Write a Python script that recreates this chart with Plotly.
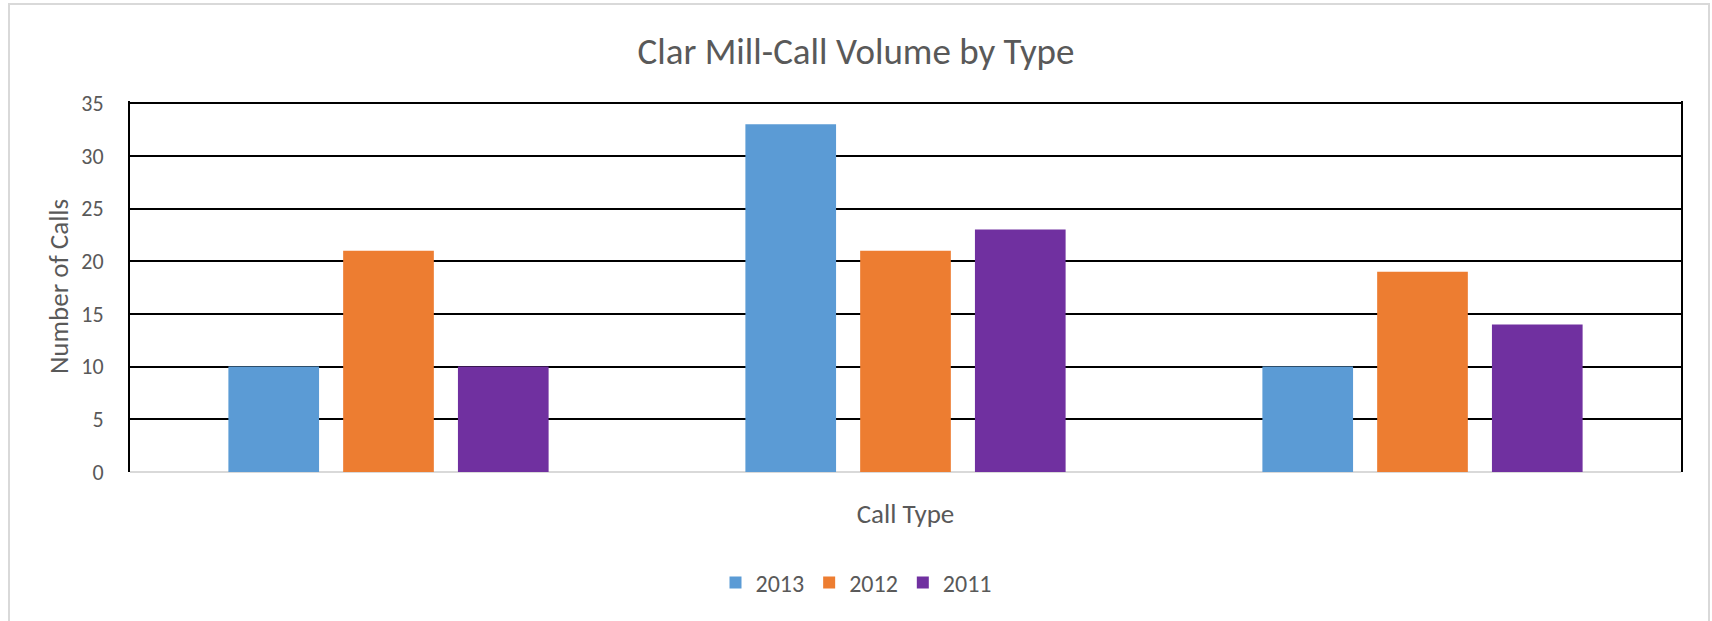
import plotly.graph_objects as go

categories = ["", " ", "  "]
years = ["2013", "2012", "2011"]
values_2013 = [10, 33, 10]
values_2012 = [21, 21, 19]
values_2011 = [10, 23, 14]
colors = ["#5B9BD5", "#ED7D31", "#7030A0"]
y_ticks = [0, 5, 10, 15, 20, 25, 30, 35]

W, H = 1712, 621
L, R, T, B = 130, 31, 101, 149
FONT = "Carlito, Lato, sans-serif"
TXT = "#595959"

fig = go.Figure()
for name, vals, c in zip(years, [values_2013, values_2012, values_2011], colors):
    fig.add_trace(go.Bar(name=name, x=categories, y=vals, marker=dict(color=c, line=dict(width=0))))

pw = W - L - R
ph = H - T - B

def px_x(px):
    return (px - L) / pw

def px_y(py):
    return (H - B - py) / ph

fig.update_layout(
    template="none",
    width=W, height=H,
    margin=dict(l=L, r=R, t=T, b=B, autoexpand=False),
    paper_bgcolor="white", plot_bgcolor="white",
    barmode="group", bargap=0.334, bargroupgap=0.21,
    font=dict(family=FONT, color=TXT, size=22),
    title=dict(text="Clar Mill-Call Volume by Type", x=0.5, xanchor="center", xref="container",
               y=1 - 51 / H, yanchor="middle", font=dict(size=37, color=TXT)),
    legend=dict(orientation="h", x=0.5, xanchor="center", xref="container", y=px_y(583), yanchor="middle",
                font=dict(size=24, color=TXT), traceorder="normal", itemwidth=30),
    xaxis=dict(showticklabels=False, showgrid=False, ticks="", automargin=False,
               showline=False, zeroline=False,
               title=dict(text="Call Type", font=dict(size=27, color=TXT), standoff=32)),
    yaxis=dict(range=[0, 35.2], tickvals=y_ticks, showgrid=True, gridcolor="black", gridwidth=2,
               zeroline=True, zerolinecolor="#D9D9D9", zerolinewidth=2, automargin=False,
               showline=True, linecolor="black", linewidth=2, mirror=True,
               ticks="", ticklabelstandoff=20, tickfont=dict(size=22, color=TXT),
               title=dict(text="Number of Calls", font=dict(size=27, color=TXT), standoff=5)),
    shapes=[dict(type="rect", xref="paper", yref="paper",
                 x0=px_x(9), x1=px_x(1709), y0=px_y(4), y1=px_y(640),
                 line=dict(color="#D9D9D9", width=2), fillcolor="rgba(0,0,0,0)", layer="below")],
)

fig.write_html("out.html", config={"displayModeBar": False},
               post_script="document.body.style.margin='0px';document.body.style.overflow='hidden';")
